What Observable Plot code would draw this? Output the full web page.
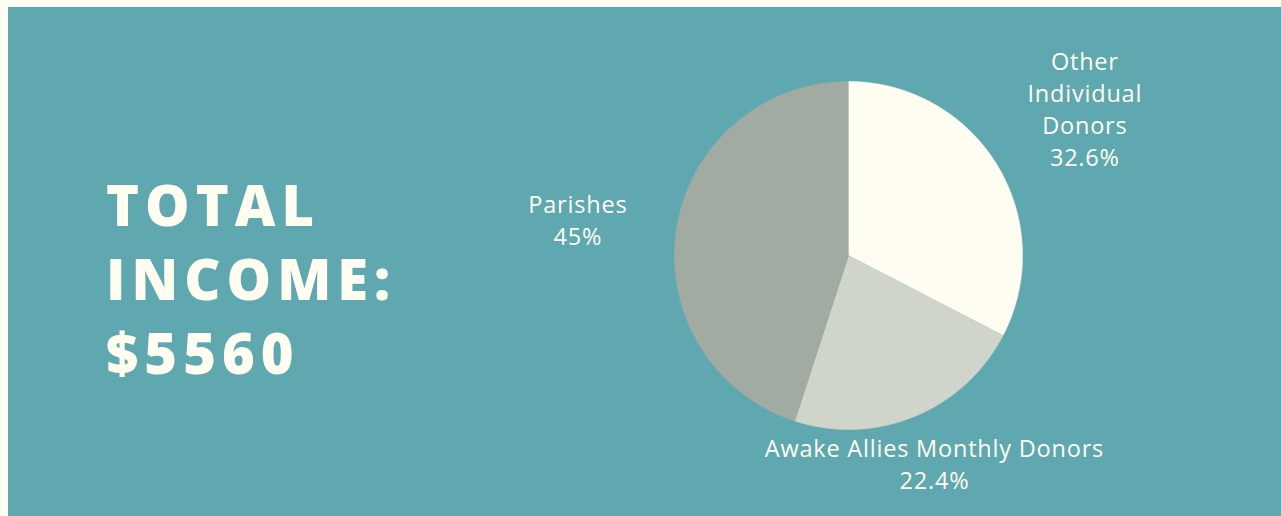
<!DOCTYPE html>
<html>
<head>
<meta charset="utf-8">
<script src="https://cdn.jsdelivr.net/npm/d3@7"></script>
<script src="https://cdn.jsdelivr.net/npm/@observablehq/plot@0.6"></script>
<style>
  html, body { margin: 0; padding: 0; background: #fffdf0; width: 1281px; height: 516px; overflow: hidden; }
  #panel { position: absolute; left: 8px; top: 7px; width: 1273px; height: 509px; background: #5fa8b0; }
  #title { position: absolute; left: 98px; top: 160px; font-family: "Open Sans", sans-serif; font-weight: 800;
           font-size: 56px; letter-spacing: 6px; line-height: 74px; color: #fffdf0; white-space: nowrap; }
  #chart { position: absolute; left: 0; top: 0; }
</style>
</head>
<body>
<div id="panel">
  <div id="title"></div>
  <div id="chart"></div>
</div>
<script>
// ---- data ----
const titleLines = ["TOTAL", "INCOME:"];
const totalIncome = 5560;
const categories = ["Other Individual Donors", "Awake Allies Monthly Donors", "Parishes"];
const labelLines = [["Other", "Individual", "Donors"], ["Awake Allies Monthly Donors"], ["Parishes"]];
const shares = [32.6, 22.4, 45];
const sliceColors = ["#fffdf1", "#cfd5cb", "#a1aba2"];

// ---- layout (not data) ----
const labelRadius = [1.59, 1.30, 1.575];
const labelDy = [-4, -2, 6];

document.getElementById("title").innerHTML =
  [...titleLines, "$" + totalIncome].join("<br>");

const arcs = d3.pie().sort(null)(shares);
const step = Math.PI / 720;
const wedgePts = [];
arcs.forEach((a, i) => {
  wedgePts.push({cat: categories[i], x: 0, y: 0});
  const n = Math.max(2, Math.ceil((a.endAngle - a.startAngle) / step));
  for (let k = 0; k <= n; ++k) {
    const t = a.startAngle + (a.endAngle - a.startAngle) * k / n;
    wedgePts.push({cat: categories[i], x: Math.sin(t), y: Math.cos(t)});
  }
});

const labels = arcs.map((a, i) => {
  const mid = (a.startAngle + a.endAngle) / 2;
  return {
    cat: categories[i],
    x: Math.sin(mid) * labelRadius[i],
    y: Math.cos(mid) * labelRadius[i],
    dy: labelDy[i],
    text: [...labelLines[i], shares[i] + "%"].join("\n")
  };
});

const chart = Plot.plot({
  width: 1273,
  height: 509,
  margin: 0,
  style: {background: "transparent", overflow: "visible", letterSpacing: "0.8px"},
  x: {domain: [-1, 1], range: [666, 1014], axis: null},
  y: {domain: [-1, 1], range: [422, 74], axis: null},
  color: {domain: categories, range: sliceColors},
  marks: [
    Plot.line(wedgePts, {x: "x", y: "y", z: "cat", fill: "cat", stroke: "cat", strokeWidth: 0.6, curve: "linear"}),
    ...labels.map(l => Plot.text([l], {
      x: "x", y: "y", text: "text",
      dy: l.dy,
      fill: "#fffdf0",
      fontSize: 23.5,
      lineHeight: 1.36,
      fontFamily: "Open Sans, sans-serif",
      textAnchor: "middle",
      lineAnchor: "middle"
    }))
  ]
});
document.getElementById("chart").appendChild(chart);
</script>
</body>
</html>
